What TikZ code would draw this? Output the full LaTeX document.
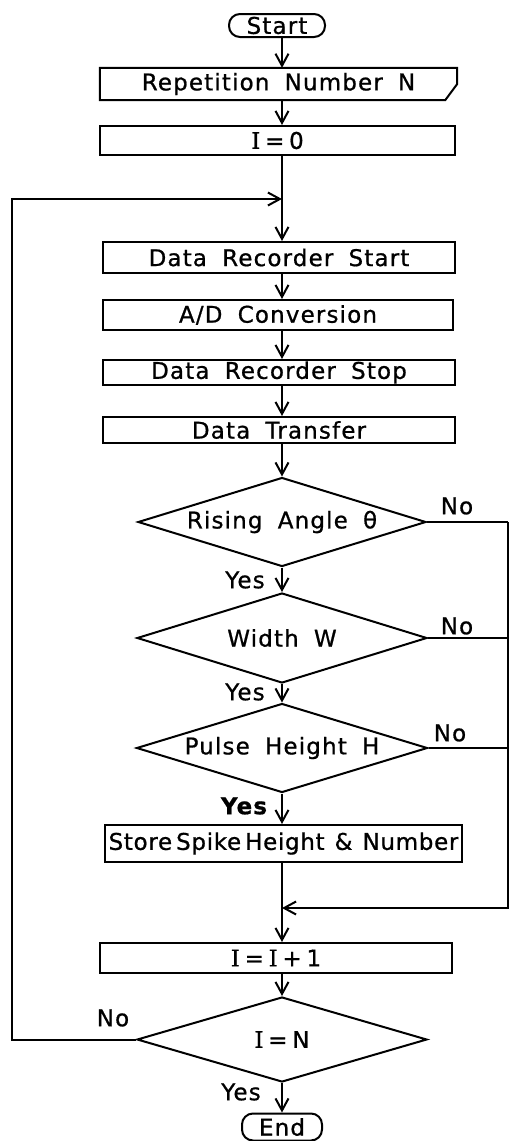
\documentclass[tikz,border=0pt]{standalone}
\usepackage{fontspec}
\setmainfont{DejaVu Sans}
\newfontfamily\lettering[LetterSpace=5,WordSpace=1.8,FakeBold=0.8]{DejaVu Sans}
\newfontfamily\tightlettering[LetterSpace=3,WordSpace=0.5,FakeBold=0.8]{DejaVu Sans}
\newfontfamily\eqlettering[WordSpace=0.65,FakeBold=0.8]{DejaVu Sans}
\newfontfamily\seriflettering[FakeBold=0.8]{DejaVu Serif}
\newcommand{\varI}{{\seriflettering I}}
\usetikzlibrary{shapes.geometric,arrows.meta}

\begin{document}
\begin{tikzpicture}[x=1pt,y=-1pt,
  every node/.style={font=\lettering\fontsize{23}{26}\selectfont, inner sep=0pt},
  eq/.style={font=\eqlettering\fontsize{23}{26}\selectfont},
  line/.style={line width=2pt},
  arr/.style={line width=2pt, -{Straight Barb[length=12pt,width=13pt]}},
  proc/.style={draw, line width=2pt, rectangle},
  term/.style={draw, line width=2pt, rectangle, rounded corners=11pt},
  test/.style={draw, line width=2pt, diamond, aspect=3.2},
  lbl/.style={}
]
\useasboundingbox (0,0) rectangle (510,1141);

% guide columns
\coordinate (spine) at (282,0);
\coordinate (leftcol) at (12,0);
\coordinate (rightcol) at (508,0);
\coordinate (loopin) at (282,199);
\coordinate (retin) at (282,908);

% steps
\node[term, minimum width=96pt, minimum height=23pt] (start) at (277,25.5) {Start};
\node[minimum width=357pt, minimum height=32pt] (rep) at (278.5,84) {Repetition Number N};
\draw[line] (rep.north west) -- (rep.north east) -- (rep.east)
  -- ([xshift=-12pt]rep.south east) -- (rep.south west) -- cycle;
\node[proc, eq, minimum width=355pt, minimum height=29pt] (i0) at (277.5,140.5) {\varI{} = 0};
\node[proc, minimum width=352pt, minimum height=31pt] (drstart) at (279,257.5) {Data Recorder Start};
\node[proc, minimum width=350pt, minimum height=30pt] (ad) at (278,315) {A/D Conversion};
\node[proc, minimum width=352pt, minimum height=25pt] (drstop) at (279,372.5) {Data Recorder Stop};
\node[proc, minimum width=352pt, minimum height=26pt] (dt) at (279,430) {Data Transfer};

\node[test, minimum width=288pt, minimum height=89pt] (d1) at (282,522) {Rising Angle θ};
\node[test, minimum width=290pt, minimum height=90pt] (d2) at (282,638) {Width W};
\node[test, minimum width=291pt, minimum height=89pt] (d3) at (282,748) {Pulse Height H};

\node[proc, minimum width=357pt, minimum height=37pt,
      font=\tightlettering\fontsize{23}{26}\selectfont] (store) at (283.5,843.5)
      {Store Spike Height \hspace{6pt}\& \hspace{6pt}Number};
\node[proc, eq, minimum width=352pt, minimum height=30pt] (inc) at (276,958) {\varI{} = \varI{} + 1};
\node[test, eq, minimum width=290pt, minimum height=85pt] (d4) at (282,1039.5) {\varI{} = N};
\node[term, minimum width=80pt, minimum height=27pt] (end) at (282,1127) {End};

% branch labels
\node[lbl] (no1) at (457,506) {No};
\node[lbl] (no2) at (457,626) {No};
\node[lbl] (no3) at (450,733) {No};
\node[lbl] (no4) at (113,1018) {No};
\node[lbl] (yes1) at (245,580) {Yes};
\node[lbl] (yes2) at (245,692) {Yes};
\node[lbl, font=\lettering\bfseries\fontsize{23}{26}\selectfont] (yes3) at (244,806) {Yes};
\node[lbl] (yes4) at (241,1092) {Yes};

% main flow
\draw[arr] (start.south -| spine) -- (rep.north -| spine);
\draw[arr] (rep.south -| spine) -- (i0.north -| spine);
\draw[line] (i0.south -| spine) -- (loopin);
\draw[arr] (loopin) -- (drstart.north -| spine);
\draw[arr] (drstart.south -| spine) -- (ad.north -| spine);
\draw[arr] (ad.south -| spine) -- (drstop.north -| spine);
\draw[arr] (drstop.south -| spine) -- (dt.north -| spine);
\draw[arr] (dt.south -| spine) -- (d1.north);
\draw[arr] (d1.south) -- (d2.north);
\draw[arr] (d2.south) -- (d3.north);
\draw[arr] (d3.south) -- (store.north -| spine);
\draw[line] (store.south -| spine) -- (retin);
\draw[arr] (retin) -- (inc.north -| spine);
\draw[arr] (inc.south -| spine) -- (d4.north);
\draw[arr] (d4.south) -- (end.north);

% "No" exits of the three tests join on the right
\draw[line] (d1.east) -- (d1.east -| rightcol);
\draw[line] (d2.east) -- (d2.east -| rightcol);
\draw[line] (d3.east) -- (d3.east -| rightcol);
\draw[arr] (d1.east -| rightcol) -- (retin -| rightcol) -- (retin);

% repeat loop on the left
\draw[arr] (d4.west) -- (d4.west -| leftcol) -- (loopin -| leftcol) -- (loopin);
\end{tikzpicture}
\end{document}
